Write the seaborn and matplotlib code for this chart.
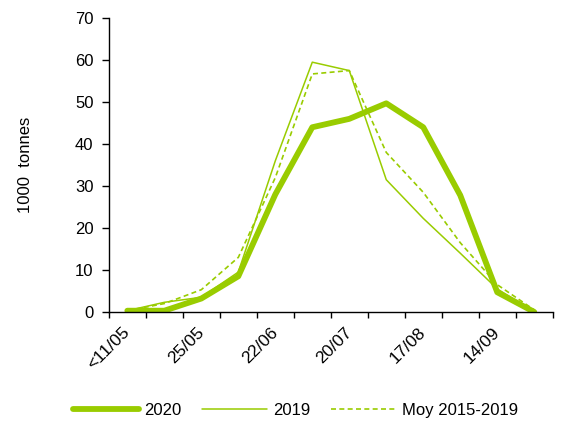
import numpy as np
import pandas as pd
import matplotlib.pyplot as plt
import matplotlib.transforms as mtransforms
import seaborn as sns

periods = ['<11/05', '11/05', '25/05', '08/06', '22/06', '06/07',
           '20/07', '03/08', '17/08', '31/08', '14/09', '28/09']
shown = ['<11/05', '', '25/05', '', '22/06', '', '20/07', '', '17/08', '', '14/09', '']
y2020 = [0.3, 0.3, 3.2, 8.5, 28.0, 44.0, 46.0, 49.7, 44.0, 27.8, 4.7, 0.0]
y2019 = [0.3, 2.3, 3.5, 9.5, 36.0, 59.5, 57.5, 31.5, 22.3, 14.0, 5.5, 0.0]
ymoy = [0.3, 2.0, 5.3, 13.0, 32.0, 56.7, 57.5, 38.0, 28.5, 16.5, 6.5, 0.5]

sns.set_style('white')
plt.rcParams['font.family'] = ['Liberation Sans', 'DejaVu Sans']
plt.rcParams['text.color'] = 'black'
plt.rcParams['axes.labelcolor'] = 'black'
plt.rcParams['xtick.color'] = 'black'
plt.rcParams['ytick.color'] = 'black'
green = '#99cc00'

fig = plt.figure(figsize=(5.64, 4.21), dpi=100)
ax = fig.add_axes([0.193, 0.259, 0.787, 0.698])

sns.lineplot(x=periods, y=y2020, ax=ax, color=green, linewidth=4.2, label='2020')
sns.lineplot(x=periods, y=y2019, ax=ax, color=green, linewidth=1.1, label='2019')
sns.lineplot(x=periods, y=ymoy, ax=ax, color=green, linewidth=1.2,
             linestyle=(0, (3, 2)), label='Moy 2015-2019')

ax.set_xlim(-0.5, len(periods) - 0.5)
ax.set_ylim(0, 70)
ax.set_yticks(range(0, 71, 10))
ax.set_xticks(range(len(periods)))
ax.set_xticklabels(shown, rotation=45, ha='right', va='center', rotation_mode='anchor', fontsize=12.5)
shift = mtransforms.ScaledTranslation(-3 / 100, 0, fig.dpi_scale_trans)
for lab in ax.get_xticklabels():
    lab.set_transform(lab.get_transform() + shift)
ax.set_xticks(np.arange(-0.5, len(periods)), minor=True)
ax.tick_params(axis='x', which='major', length=0, pad=13)
ax.tick_params(axis='x', which='minor', length=4, width=1, color='black', direction='out', bottom=True)
ax.tick_params(axis='y', length=5, width=1, color='black', direction='out', left=True, labelsize=12, pad=6)
for s in ['top', 'right']:
    ax.spines[s].set_visible(False)
for s in ['left', 'bottom']:
    ax.spines[s].set_color('black')
    ax.spines[s].set_linewidth(1)
ax.set_xlabel('')
ax.set_ylabel('1000  tonnes', fontsize=12)
ax.yaxis.set_label_coords(-0.171, 0.5)

ax.legend(loc='center', bbox_to_anchor=(0.524, 0.026), bbox_transform=fig.transFigure,
          ncol=3, frameon=False, fontsize=12, handlelength=3.95, handletextpad=0.35,
          columnspacing=1.2)

fig.savefig('out.png', dpi=100)
